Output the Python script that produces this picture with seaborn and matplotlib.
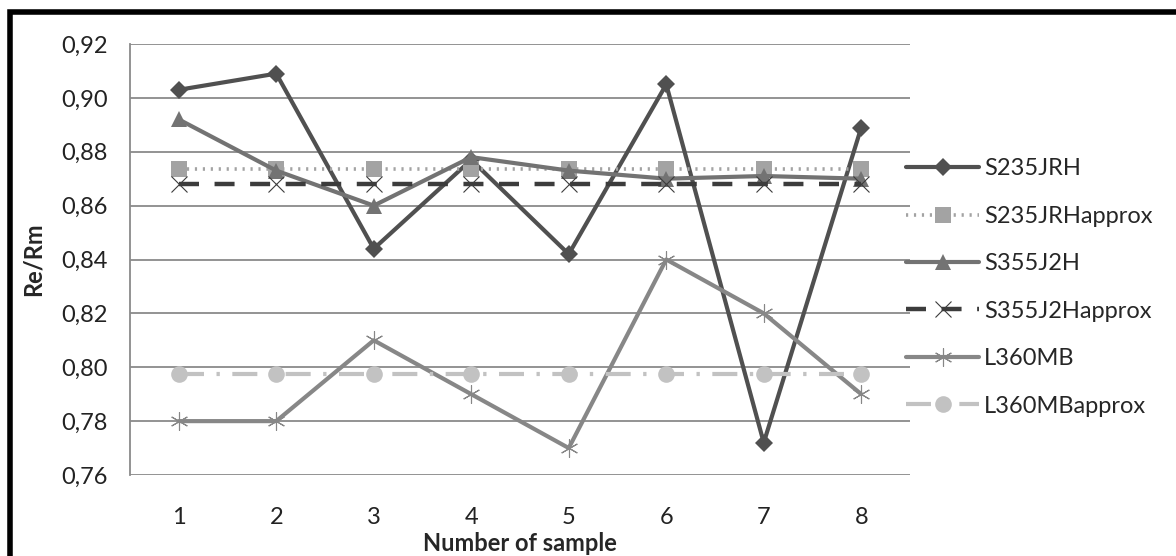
import matplotlib
matplotlib.use('Agg')
import matplotlib.pyplot as plt
from matplotlib.patches import Rectangle
import numpy as np
import pandas as pd
import seaborn as sns

# data
samples = [1, 2, 3, 4, 5, 6, 7, 8]
s235jrh = [0.903, 0.909, 0.844, 0.877, 0.842, 0.905, 0.772, 0.889]
s235jrh_approx = [0.8735] * 8
s355j2h = [0.892, 0.873, 0.860, 0.878, 0.873, 0.870, 0.871, 0.870]
s355j2h_approx = [0.868] * 8
l360mb = [0.780, 0.780, 0.810, 0.790, 0.770, 0.840, 0.820, 0.790]
l360mb_approx = [0.7975] * 8

series = {
    'S235JRH': s235jrh,
    'S235JRHapprox': s235jrh_approx,
    'S355J2H': s355j2h,
    'S355J2Happrox': s355j2h_approx,
    'L360MB': l360mb,
    'L360MBapprox': l360mb_approx,
}

styles = {
    'S235JRH': dict(color='#505050', marker='D', markersize=9, lw=3.0, linestyle='-', mew=0),
    'S235JRHapprox': dict(color='#a3a3a3', marker='s', markersize=12, lw=2.6, linestyle=(0, (0.6, 1.6)), mew=0),
    'S355J2H': dict(color='#737373', marker='^', markersize=11, lw=3.0, linestyle='-', mew=0),
    'S355J2Happrox': dict(color='#3c3c3c', marker='x', markersize=11, lw=3.2, linestyle=(0, (4.5, 3.5)), mew=0.8),
    'L360MB': dict(color='#878787', marker=(6, 2, 0), markersize=13, lw=3.0, linestyle='-', mew=0.8),
    'L360MBapprox': dict(color='#c2c2c2', marker='o', markersize=12, lw=3.0, linestyle=(0, (6, 3, 0.8, 3)), mew=0),
}

sns.set_style('white')
plt.rcParams['font.family'] = ['Lato', 'DejaVu Sans']

df = pd.DataFrame({'sample': samples, **series})

fig = plt.figure(figsize=(11.76, 5.56), dpi=100)
ax = fig.add_axes([130 / 1176, 1 - 475 / 556, 780 / 1176, 431 / 556])

for name in series:
    st = styles[name]
    sns.lineplot(data=df, x='sample', y=name, ax=ax, label=name,
                 color=st['color'], marker=st['marker'], markersize=st['markersize'],
                 linewidth=st['lw'], linestyle=st['linestyle'],
                 markeredgewidth=st['mew'], markeredgecolor=st['color'])

ax.set_xlim(0.5, 8.5)
ax.set_ylim(0.76, 0.92)
yt = np.round(np.arange(0.76, 0.9201, 0.02), 2)
ax.set_yticks(yt)
ax.set_yticklabels([f'{v:.2f}'.replace('.', ',') for v in yt], fontsize=17)
ax.set_xticks(samples)
ax.set_xticklabels([str(s) for s in samples], fontsize=17)
ax.yaxis.grid(True, color='#8a8a8a', lw=1.3)
ax.set_axisbelow(True)
for sp in ['top', 'right', 'bottom']:
    ax.spines[sp].set_visible(False)
ax.spines['left'].set_color('#8a8a8a')
ax.spines['left'].set_linewidth(1.3)
ax.tick_params(axis='y', length=6, width=1.3, color='#8a8a8a', pad=10, labelcolor='#222222')
ax.tick_params(axis='x', length=0, pad=23, labelcolor='#222222')
ax.set_xlabel('Number of sample', fontsize=17, fontweight='bold', labelpad=3)
ax.set_ylabel('Re/Rm', fontsize=17, fontweight='bold', labelpad=12)

leg = ax.legend(loc='center left', bbox_to_anchor=(0.995, 0.435), frameon=False,
                fontsize=17, handlelength=3.1, handletextpad=0.2, labelspacing=1.12,
                borderaxespad=0, borderpad=0)

fig.patches.append(Rectangle((9.5 / 1176, -0.1), 1.2, 1.1 - 12.5 / 556 + 0.001,
                             transform=fig.transFigure, fill=False,
                             edgecolor='black', lw=4, zorder=10))

fig.savefig('out.png', dpi=100)
